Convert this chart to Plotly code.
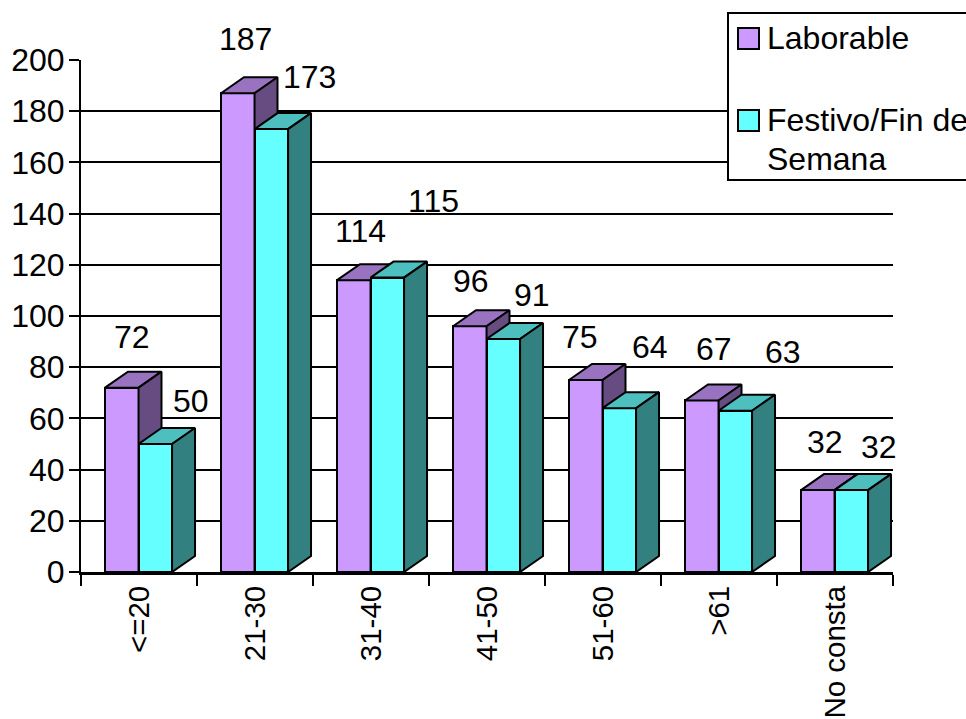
import plotly.graph_objects as go

categories = ["<=20", "21-30", "31-40", "41-50", "51-60", ">61", "No consta"]
laborable = [72, 187, 114, 96, 75, 67, 32]
festivo = [50, 173, 115, 91, 64, 63, 32]
series_names = ["Laborable", "Festivo/Fin de", "Semana"]
y_ticks = list(range(0, 201, 20))

# Styling / geometry (layout only)
W, H = 966, 719
L, R, T, B = 81, 893, 60, 572
FONT = "Liberation Sans, Arial, sans-serif"
FS = 32
BAR_W = 0.289
DX = 0.198    # 3D depth in category units
DY = 6.25     # 3D depth in value units
PURPLE = ("#CC99FF", "#9973BF", "#664C80")
CYAN = ("#66FFFF", "#4DBFBF", "#338080")
LINE = dict(color="black", width=2)

# label offsets from (bar centre, bar top), in px
lab_off = [(10, 51), (7, 54), (6, 49), (1, 45), (-6, 43), (12, 51), (7, 48)]
fes_off = [(35, 43), (38, 52), (46, 77), (28, 44), (30, 61), (47, 59), (27, 43)]

xs = list(range(len(categories)))
fig = go.Figure()


def faces(values, start, colors, xaxis):
    for i, v in zip(xs, values):
        x0 = i + start
        x1 = x0 + BAR_W
        # top
        fig.add_trace(go.Scatter(
            x=[x0, x1, x1 + DX, x0 + DX, x0], y=[v, v, v + DY, v + DY, v],
            mode="lines", fill="toself", fillcolor=colors[1], line=LINE,
            xaxis=xaxis, yaxis="y", showlegend=False, hoverinfo="skip"))
        # side
        fig.add_trace(go.Scatter(
            x=[x1, x1 + DX, x1 + DX, x1, x1], y=[0, DY, v + DY, v, 0],
            mode="lines", fill="toself", fillcolor=colors[2], line=LINE,
            xaxis=xaxis, yaxis="y", showlegend=False, hoverinfo="skip"))


fig.add_trace(go.Bar(
    x=categories, y=laborable, width=BAR_W, offset=-BAR_W - 0.004,
    marker=dict(color=PURPLE[0], line=LINE), name="Laborable", showlegend=False))
faces(laborable, -BAR_W - 0.004, PURPLE, "x2")

fig.add_trace(go.Bar(
    x=xs, y=festivo, width=BAR_W, offset=-0.004, xaxis="x3", yaxis="y",
    marker=dict(color=CYAN[0], line=LINE), name="Festivo/Fin de Semana", showlegend=False))
faces(festivo, -0.004, CYAN, "x3")

xrange = [-0.5, len(categories) - 0.5]
fig.update_layout(
    width=W, height=H,
    margin=dict(l=L, r=W - R, t=T, b=H - B, autoexpand=False),
    paper_bgcolor="white", plot_bgcolor="white",
    font=dict(family=FONT, size=FS, color="black"),
    showlegend=False,
    bargap=0,
    xaxis=dict(type="category", categoryorder="array", categoryarray=categories,
               range=xrange, tickson="boundaries", ticks="outside", ticklen=11, tickwidth=2,
               tickcolor="black", tickangle=-90, showgrid=False, showline=True,
               linecolor="black", linewidth=3, tickfont=dict(size=29.5, family=FONT),
               ticklabelstandoff=-1, zeroline=False),
    xaxis2=dict(type="linear", overlaying="x", range=xrange, visible=False),
    xaxis3=dict(type="linear", overlaying="x", range=xrange, visible=False),
    yaxis=dict(range=[0, 200], tickvals=y_ticks, ticks="outside", ticklen=10, tickwidth=2,
               tickcolor="black", showline=True, linecolor="black", linewidth=2,
               showgrid=True, gridcolor="black", gridwidth=2, zeroline=False,
               ticklabelstandoff=-2, tickfont=dict(size=FS, family=FONT)),
)

annotations = []
for i, v, (sx, sy) in zip(xs, laborable, lab_off):
    annotations.append(dict(x=i - BAR_W / 2, y=v, xref="x3", yref="y", text=str(v),
                            showarrow=False, xshift=sx, yshift=sy, font=dict(size=FS, family=FONT)))
for i, v, (sx, sy) in zip(xs, festivo, fes_off):
    annotations.append(dict(x=i + BAR_W / 2, y=v, xref="x3", yref="y", text=str(v),
                            showarrow=False, xshift=sx, yshift=sy, font=dict(size=FS, family=FONT)))


def px(x):
    return (x - L) / (R - L)


def py(y):
    return (B - y) / (B - T)


shapes = [
    dict(type="rect", xref="paper", yref="paper", x0=px(728), x1=px(985), y0=py(180), y1=py(13),
         fillcolor="white", line=LINE),
    dict(type="rect", xref="paper", yref="paper", x0=px(738), x1=px(759), y0=py(49), y1=py(28),
         fillcolor=PURPLE[0], line=LINE),
    dict(type="rect", xref="paper", yref="paper", x0=px(738), x1=px(759), y0=py(131), y1=py(110),
         fillcolor=CYAN[0], line=LINE),
]
for name, y in zip(series_names, [38, 120, 159]):
    annotations.append(dict(x=px(765), y=py(y), xref="paper", yref="paper", text=name,
                            xanchor="left", yanchor="middle", showarrow=False, align="left",
                            font=dict(size=FS, family=FONT)))
fig.update_layout(annotations=annotations, shapes=shapes)

fig.write_html("out.html", config=dict(displayModeBar=False),
               post_script="document.body.style.margin='0';document.body.style.overflow='hidden';")
